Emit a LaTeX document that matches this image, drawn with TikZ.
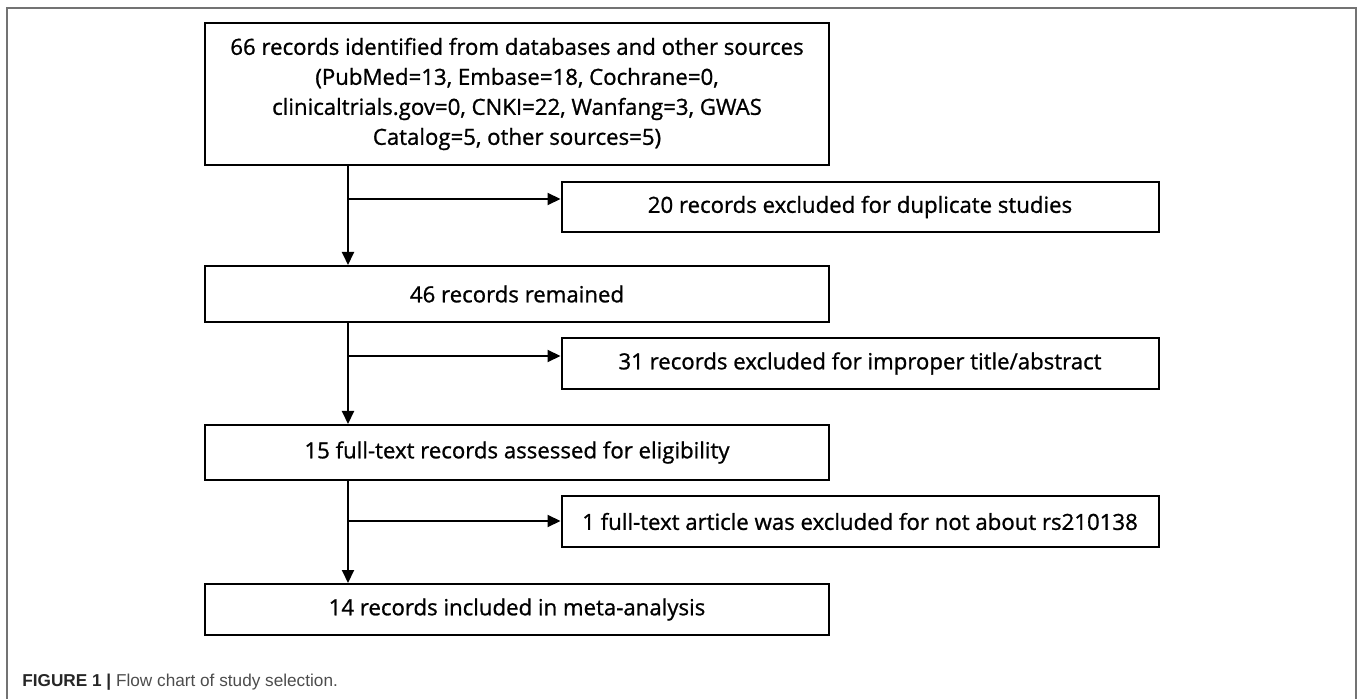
\documentclass[tikz,border=0pt]{standalone}
\usepackage{fontspec}
\setmainfont{Open Sans}
\newfontfamily\boxfont[FakeBold=1]{Open Sans}
\newfontfamily\capfont{Liberation Sans}
\usetikzlibrary{arrows.meta}

\begin{document}
\begin{tikzpicture}[x=0.5pt, y=-0.5pt,
		box/.style={draw, line width=1pt, align=center, inner sep=0pt,
			font=\boxfont\fontsize{11.1}{15}\selectfont},
		arr/.style={line width=1pt, -{Triangle[length=6.5pt, width=6pt]}}]
	\useasboundingbox (0,0) rectangle (1358,699);

	% open frame round the figure
	\draw[black!55, line width=0.75pt] (7,699) -- (7,8) -- (1356,8) -- (1356,699);

	% main column
	\node[box, minimum width=312pt, minimum height=71pt] (found) at (517,94)
		{66 records identified from databases and other sources\\
		 (PubMed=13, Embase=18, Cochrane=0,\\
		 clinicaltrials.gov=0, CNKI=22, Wanfang=3, GWAS\\
		 Catalog=5, other sources=5)};
	\node[box, minimum width=312pt, minimum height=28pt] (remain) at (517,294)
		{46 records remained};
	\node[box, minimum width=312pt, minimum height=27.5pt] (full) at (517,452.5)
		{15 full-text records assessed for eligibility};
	\node[box, minimum width=312pt, minimum height=25.5pt] (meta) at (517,609.5)
		{14 records included in meta-analysis};

	% exclusions
	\node[box, minimum width=298.5pt, minimum height=25pt] (dup) at (860,207)
		{20 records excluded for duplicate studies};
	\node[box, minimum width=298.5pt, minimum height=25.5pt] (title) at (860,363.5)
		{31 records excluded for improper title/abstract};
	\node[box, minimum width=298.5pt, minimum height=25.5pt] (rs) at (860,521.5)
		{1 full-text article was excluded for not about rs210138};

	\coordinate (t1) at (348,199);
	\coordinate (t2) at (348,356);
	\coordinate (t3) at (348,521);

	\draw[arr] (found.south -| t1) -- (remain.north -| t1);
	\draw[arr] (remain.south -| t2) -- (full.north -| t2);
	\draw[arr] (full.south -| t3) -- (meta.north -| t3);
	\draw[arr] (t1) -- (dup.west |- t1);
	\draw[arr] (t2) -- (title.west |- t2);
	\draw[arr] (t3) -- (rs.west |- t3);

	\node[anchor=west, inner sep=0pt, font=\capfont\fontsize{8.6}{10}\selectfont] (cap) at (22,682)
		{\textcolor{black!85}{\bfseries FIGURE 1 |} \textcolor{black!70}{Flow chart of study selection.}};
\end{tikzpicture}
\end{document}
